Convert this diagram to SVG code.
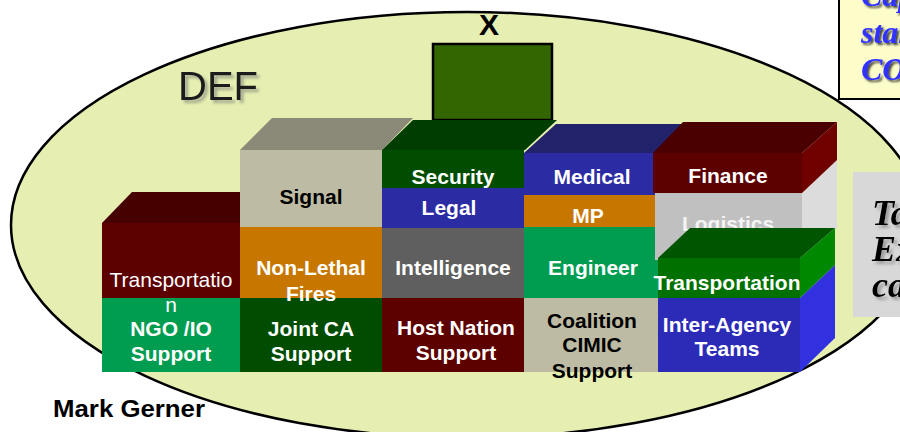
<svg xmlns="http://www.w3.org/2000/svg" width="900" height="432" viewBox="0 0 900 432">
<defs>
<filter id="sh" x="-20%" y="-20%" width="150%" height="150%">
<feDropShadow dx="2" dy="2" stdDeviation="1.2" flood-color="#000" flood-opacity="0.75"/>
</filter>
<filter id="shg" x="-20%" y="-20%" width="150%" height="150%">
<feDropShadow dx="3" dy="3" stdDeviation="1.5" flood-color="#777" flood-opacity="0.6"/>
</filter>
</defs>
<style>
.t{font-family:"Liberation Sans",Arial,sans-serif;font-size:21px;font-weight:bold;fill:#fff;text-anchor:middle}
.k{fill:#000}
.r{font-weight:normal}
.it{font-family:"Liberation Serif","Times New Roman",serif;font-weight:bold;font-style:italic}
</style>
<rect width="900" height="432" fill="#fff"/>
<ellipse id="def-zone" cx="467" cy="225" rx="456" ry="213" fill="#e6efb1" stroke="#000" stroke-width="2.5"/>
<g id="def-label"><text x="178" y="100" font-family="Liberation Sans,Arial,sans-serif" font-size="40" fill="#1a1a1a" filter="url(#shg)">DEF</text></g>
<g id="x-box">
<text class="t k" x="489" y="35" style="font-size:30px">X</text>
<rect x="433" y="44" width="119" height="76" fill="#336600" stroke="#000" stroke-width="2.5"/>
</g>
<g id="connectors"></g>
<g id="transportation-left">
<polygon points="102,223 132,192 240,192 240,223" fill="#470000"/>
<rect x="102" y="223" width="138" height="75" fill="#5c0000"/>
</g>
<g id="signal">
<polygon points="240,150 272,118 413,118 382,150" fill="#8b8977"/>
<rect x="240" y="150" width="142" height="77" fill="#bebba4"/>
<text class="t k" x="311" y="204">Signal</text>
</g>
<g id="non-lethal-fires">
<rect x="240" y="227" width="142" height="71" fill="#c77700"/>
</g>
<g id="medical">
<polygon points="524,153 556,124 690,124 658,153" fill="#22226b"/>
<rect x="524" y="153" width="134" height="42" fill="#2b2ba3"/>
<text class="t" x="592" y="184">Medical</text>
</g>
<g id="security">
<polygon points="382,150 413,120 557,120 525,150" fill="#003d00"/>
<rect x="382" y="150" width="142" height="38" fill="#004d00"/>
<text class="t" x="453" y="184">Security</text>
</g>
<g id="legal">
<rect x="382" y="188" width="142" height="40" fill="#2b2ba3"/>
<text class="t" x="449" y="215">Legal</text>
</g>
<g id="mp">
<rect x="524" y="195" width="134" height="32" fill="#c77700"/>
<text class="t" x="588" y="223">MP</text>
</g>
<g id="intelligence">
<rect x="382" y="228" width="142" height="70" fill="#5f5f5f"/>
<text class="t" x="453" y="275">Intelligence</text>
</g>
<g id="engineer">
<rect x="524" y="227" width="134" height="71" fill="#009c50"/>
<text class="t" x="593" y="275">Engineer</text>
</g>
<g id="ngo-io-support">
<rect x="102" y="298" width="138" height="74" fill="#009c50"/>
<text class="t" x="171" y="336">NGO /IO</text>
<text class="t" x="171" y="361">Support</text>
</g>
<g id="joint-ca-support">
<rect x="240" y="298" width="142" height="74" fill="#004c00"/>
<text class="t" x="311" y="336">Joint CA</text>
<text class="t" x="311" y="361">Support</text>
</g>
<g id="host-nation-support">
<rect x="382" y="298" width="142" height="74" fill="#5c0000"/>
<text class="t" x="456" y="335">Host Nation</text>
<text class="t" x="456" y="360">Support</text>
</g>
<g id="coalition-cimic-support">
<rect x="524" y="298" width="134" height="74" fill="#bebba4"/>
<text class="t k" x="592" y="328">Coalition</text>
<text class="t k" x="592" y="352">CIMIC</text>
<text class="t k" x="592" y="378">Support</text>
</g>
<g id="transportation-left-text">
<text class="t r" x="171" y="287">Transportatio</text>
<text class="t r" x="171" y="312">n</text>
</g>
<g id="non-lethal-fires-text">
<text class="t" x="311" y="275">Non-Lethal</text>
<text class="t" x="311" y="301">Fires</text>
</g>
<g id="logistics">
<polygon points="802,193 837,160 837,228 802,260" fill="#dcdcdc"/>
<rect x="655" y="193" width="147" height="67" fill="#c0c0c0"/>
<text class="t" x="728" y="231" style="fill:#f4f4f4">Logistics</text>
</g>
<g id="finance">
<polygon points="653,153 683,122 837,122 802,153" fill="#4a0000"/>
<polygon points="802,153 837,122 837,160 802,193" fill="#700000"/>
<rect x="653" y="153" width="149" height="40" fill="#5c0000"/>
<text class="t" x="728" y="183">Finance</text>
</g>
<g id="transportation-right">
<polygon points="658,258 690,228 835,228 800,258" fill="#005500"/>
<polygon points="800,258 835,228 835,265 800,298" fill="#008800"/>
<rect x="658" y="258" width="142" height="40" fill="#007000"/>
<text class="t" x="727" y="290">Transportation</text>
</g>
<g id="inter-agency-teams">
<polygon points="800,298 835,265 835,338 800,372" fill="#3131e0"/>
<rect x="658" y="298" width="142" height="74" fill="#2b2bb8"/>
<text class="t" x="727" y="332">Inter-Agency</text>
<text class="t" x="727" y="356">Teams</text>
</g>
<g id="author"><text class="t k" x="53" y="417" style="font-size:23px;text-anchor:start" textLength="152" lengthAdjust="spacingAndGlyphs">Mark Gerner</text></g>
<g id="note-top">
<rect x="839" y="-2" width="64" height="101" fill="#fdfdca" stroke="#000" stroke-width="2"/>
<g class="it" font-size="32" fill="#3333ff" filter="url(#sh)">
<text x="861" y="6">Cap</text>
<text x="861" y="43">stan</text>
<text x="861" y="80">CO</text>
</g>
</g>
<g id="note-right">
<rect x="853" y="172" width="50" height="145" fill="#d8d8d8"/>
<g class="it" font-size="36" fill="#000" filter="url(#shg)">
<text x="872" y="225">Ta</text>
<text x="872" y="261">Ex</text>
<text x="872" y="297">ca</text>
</g>
</g>
</svg>
